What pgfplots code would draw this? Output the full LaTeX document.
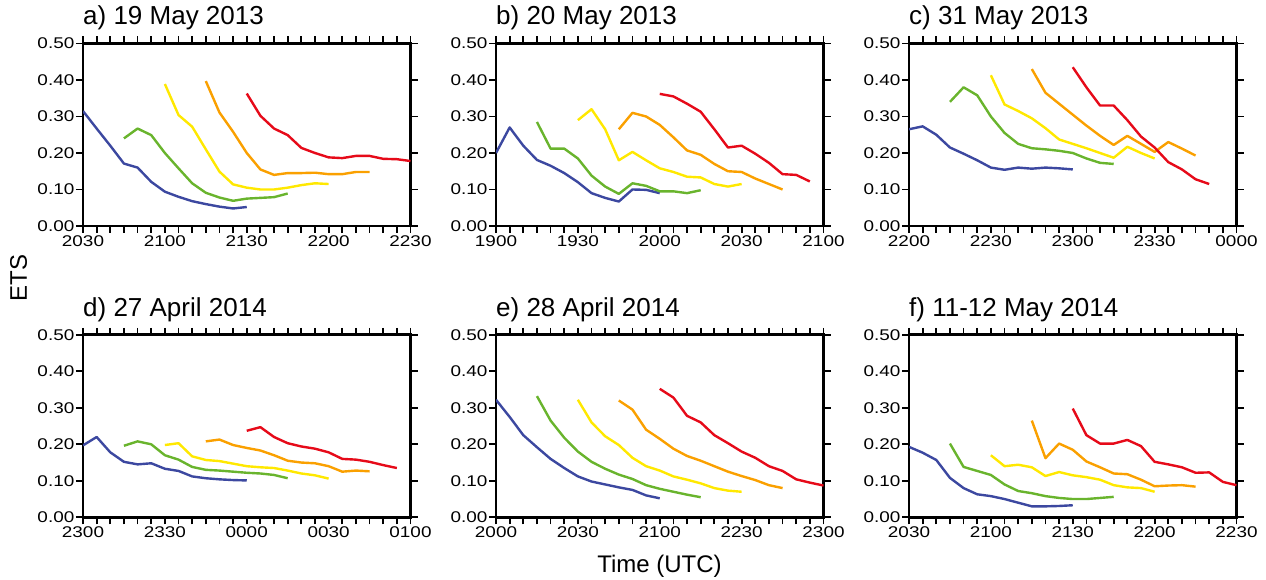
\documentclass[border=0pt]{standalone}
\usepackage{fontspec}
\setmainfont{Liberation Sans}
\newfontfamily\tickfont{Liberation Sans}[FakeStretch=1.22]
\usepackage{pgfplots}
\pgfplotsset{compat=1.18}
\definecolor{cblue}{RGB}{60,72,160}
\definecolor{cgreen}{RGB}{105,180,45}
\definecolor{cyellow}{RGB}{255,232,0}
\definecolor{corange}{RGB}{250,160,0}
\definecolor{cred}{RGB}{230,10,25}
\pgfplotsset{
  ets/.style={
    anchor=south west,
    scale only axis, width=327.5pt, height=182.5pt,
    xmin=0, xmax=120, ymin=0, ymax=0.5,
    xtick={0,30,60,90,120},
    minor x tick num=5,
    ytick={0,0.1,0.2,0.3,0.4,0.5},
    yticklabels={0.00,0.10,0.20,0.30,0.40,0.50},
    tick align=outside,
    major tick length=7pt, minor tick length=7pt,
    tick style={black, line width=1.8pt},
    axis line style={line width=2.8pt},
    tick label style={font=\tickfont\fontsize{15.5}{15.5}\selectfont},
    yticklabel style={inner sep=1.5pt},
    xticklabel style={inner sep=2pt},
    /pgf/number format/assume math mode=true,
    title style={at={(0,1)}, anchor=base west, yshift=12.5pt, inner sep=0pt,
      font=\fontsize{26}{26}\selectfont},
    every axis plot/.append style={line width=2.4pt, line join=round},
  },
  bl/.style={cblue}, gr/.style={cgreen}, ye/.style={cyellow}, or/.style={corange}, re/.style={cred},
}
\begin{document}
\begin{tikzpicture}
\path[use as bounding box] (0,0) rectangle (1266pt,580pt);

% a)
\begin{axis}[ets, at={(83pt,354pt)}, title={a) 19 May 2013}, xticklabels={2030,2100,2130,2200,2230}]
\addplot[bl] coordinates {(0,0.315)(5,0.267)(10,0.220)(15,0.171)(20,0.160)(25,0.121)(30,0.094)(35,0.080)(40,0.068)(45,0.060)(50,0.053)(55,0.048)(60,0.052)};
\addplot[gr] coordinates {(15,0.240)(20,0.267)(25,0.249)(30,0.200)(35,0.158)(40,0.117)(45,0.091)(50,0.078)(55,0.069)(60,0.075)(65,0.077)(70,0.079)(75,0.089)};
\addplot[ye] coordinates {(30,0.389)(35,0.304)(40,0.272)(45,0.210)(50,0.149)(55,0.114)(60,0.105)(65,0.100)(70,0.100)(75,0.105)(80,0.112)(85,0.117)(90,0.115)};
\addplot[or] coordinates {(45,0.397)(50,0.311)(55,0.258)(60,0.200)(65,0.155)(70,0.140)(75,0.145)(80,0.145)(85,0.146)(90,0.142)(95,0.142)(100,0.148)(105,0.148)};
\addplot[re] coordinates {(60,0.363)(65,0.302)(70,0.267)(75,0.249)(80,0.214)(85,0.200)(90,0.188)(95,0.186)(100,0.192)(105,0.192)(110,0.184)(115,0.183)(120,0.178)};
\end{axis}

% b)
\begin{axis}[ets, at={(496pt,354pt)}, title={b) 20 May 2013}, xticklabels={1900,1930,2000,2030,2100}]
\addplot[bl] coordinates {(0,0.200)(5,0.270)(10,0.220)(15,0.181)(20,0.165)(25,0.145)(30,0.120)(35,0.090)(40,0.077)(45,0.067)(50,0.100)(55,0.099)(60,0.090)};
\addplot[gr] coordinates {(15,0.285)(20,0.212)(25,0.212)(30,0.185)(35,0.138)(40,0.108)(45,0.088)(50,0.117)(55,0.110)(60,0.095)(65,0.095)(70,0.090)(75,0.098)};
\addplot[ye] coordinates {(30,0.290)(35,0.320)(40,0.265)(45,0.180)(50,0.203)(55,0.180)(60,0.158)(65,0.148)(70,0.135)(75,0.133)(80,0.115)(85,0.108)(90,0.115)};
\addplot[or] coordinates {(45,0.265)(50,0.310)(55,0.300)(60,0.277)(65,0.243)(70,0.207)(75,0.195)(80,0.170)(85,0.150)(90,0.148)(95,0.130)(100,0.115)(105,0.100)};
\addplot[re] coordinates {(60,0.362)(65,0.355)(70,0.335)(75,0.313)(80,0.265)(85,0.215)(90,0.220)(95,0.198)(100,0.173)(105,0.142)(110,0.140)(115,0.122)};
\end{axis}

% c)
\begin{axis}[ets, at={(909pt,354pt)}, title={c) 31 May 2013}, xticklabels={2200,2230,2300,2330,0000}]
\addplot[bl] coordinates {(0,0.265)(5,0.273)(10,0.250)(15,0.215)(20,0.198)(25,0.180)(30,0.160)(35,0.154)(40,0.160)(45,0.157)(50,0.160)(55,0.158)(60,0.155)};
\addplot[gr] coordinates {(15,0.340)(20,0.380)(25,0.358)(30,0.300)(35,0.255)(40,0.225)(45,0.213)(50,0.210)(55,0.206)(60,0.200)(65,0.185)(70,0.173)(75,0.170)};
\addplot[ye] coordinates {(30,0.413)(35,0.333)(40,0.315)(45,0.295)(50,0.268)(55,0.237)(60,0.225)(65,0.213)(70,0.200)(75,0.187)(80,0.217)(85,0.200)(90,0.185)};
\addplot[or] coordinates {(45,0.430)(50,0.365)(55,0.335)(60,0.305)(65,0.275)(70,0.247)(75,0.222)(80,0.247)(85,0.225)(90,0.203)(95,0.230)(100,0.212)(105,0.193)};
\addplot[re] coordinates {(60,0.435)(65,0.380)(70,0.330)(75,0.330)(80,0.290)(85,0.245)(90,0.215)(95,0.175)(100,0.155)(105,0.128)(110,0.115)};
\end{axis}

% d)
\begin{axis}[ets, at={(83pt,62.7pt)}, title={d) 27 April 2014}, xticklabels={2300,2330,0000,0030,0100}]
\addplot[bl] coordinates {(0,0.197)(5,0.220)(10,0.178)(15,0.152)(20,0.145)(25,0.148)(30,0.133)(35,0.127)(40,0.112)(45,0.107)(50,0.104)(55,0.102)(60,0.101)};
\addplot[gr] coordinates {(15,0.196)(20,0.208)(25,0.200)(30,0.170)(35,0.158)(40,0.138)(45,0.130)(50,0.128)(55,0.125)(60,0.122)(65,0.120)(70,0.116)(75,0.107)};
\addplot[ye] coordinates {(30,0.198)(35,0.203)(40,0.167)(45,0.157)(50,0.154)(55,0.147)(60,0.140)(65,0.137)(70,0.135)(75,0.128)(80,0.120)(85,0.115)(90,0.106)};
\addplot[or] coordinates {(45,0.208)(50,0.213)(55,0.198)(60,0.190)(65,0.183)(70,0.170)(75,0.155)(80,0.150)(85,0.148)(90,0.140)(95,0.125)(100,0.128)(105,0.126)};
\addplot[re] coordinates {(60,0.237)(65,0.247)(70,0.220)(75,0.203)(80,0.194)(85,0.188)(90,0.178)(95,0.160)(100,0.158)(105,0.152)(110,0.143)(115,0.135)};
\end{axis}

% e)
\begin{axis}[ets, at={(496pt,62.7pt)}, title={e) 28 April 2014}, xticklabels={2000,2030,2100,2230,2300}]
\addplot[bl] coordinates {(0,0.322)(5,0.275)(10,0.225)(15,0.192)(20,0.160)(25,0.135)(30,0.112)(35,0.098)(40,0.090)(45,0.082)(50,0.075)(55,0.060)(60,0.052)};
\addplot[gr] coordinates {(15,0.332)(20,0.265)(25,0.218)(30,0.180)(35,0.152)(40,0.133)(45,0.117)(50,0.105)(55,0.088)(60,0.078)(65,0.070)(70,0.062)(75,0.055)};
\addplot[ye] coordinates {(30,0.322)(35,0.260)(40,0.222)(45,0.198)(50,0.163)(55,0.140)(60,0.128)(65,0.112)(70,0.103)(75,0.093)(80,0.080)(85,0.073)(90,0.070)};
\addplot[or] coordinates {(45,0.320)(50,0.295)(55,0.240)(60,0.215)(65,0.188)(70,0.168)(75,0.155)(80,0.140)(85,0.125)(90,0.113)(95,0.102)(100,0.088)(105,0.080)};
\addplot[re] coordinates {(60,0.352)(65,0.328)(70,0.278)(75,0.260)(80,0.225)(85,0.203)(90,0.180)(95,0.163)(100,0.140)(105,0.127)(110,0.104)(115,0.095)(120,0.087)};
\end{axis}

% f)
\begin{axis}[ets, at={(909pt,62.7pt)}, title={f) 11-12 May 2014}, xticklabels={2030,2100,2130,2200,2230}]
\addplot[bl] coordinates {(0,0.193)(5,0.177)(10,0.157)(15,0.108)(20,0.080)(25,0.063)(30,0.058)(35,0.050)(40,0.040)(45,0.030)(50,0.030)(55,0.031)(60,0.033)};
\addplot[gr] coordinates {(15,0.202)(20,0.138)(25,0.127)(30,0.116)(35,0.090)(40,0.072)(45,0.066)(50,0.058)(55,0.053)(60,0.050)(65,0.050)(70,0.053)(75,0.056)};
\addplot[ye] coordinates {(30,0.170)(35,0.140)(40,0.144)(45,0.137)(50,0.113)(55,0.124)(60,0.115)(65,0.110)(70,0.103)(75,0.088)(80,0.082)(85,0.080)(90,0.070)};
\addplot[or] coordinates {(45,0.265)(50,0.162)(55,0.202)(60,0.185)(65,0.153)(70,0.137)(75,0.120)(80,0.118)(85,0.103)(90,0.085)(95,0.087)(100,0.088)(105,0.084)};
\addplot[re] coordinates {(60,0.298)(65,0.225)(70,0.202)(75,0.202)(80,0.212)(85,0.195)(90,0.152)(95,0.145)(100,0.137)(105,0.122)(110,0.123)(115,0.097)(120,0.088)};
\end{axis}

\node[rotate=90, inner sep=0pt, font=\fontsize{24}{24}\selectfont] at (18.5pt,302pt) {ETS};
\node[anchor=base, inner sep=0pt, font=\fontsize{24}{24}\selectfont] at (659.5pt,7pt) {Time (UTC)};
\end{tikzpicture}
\end{document}
